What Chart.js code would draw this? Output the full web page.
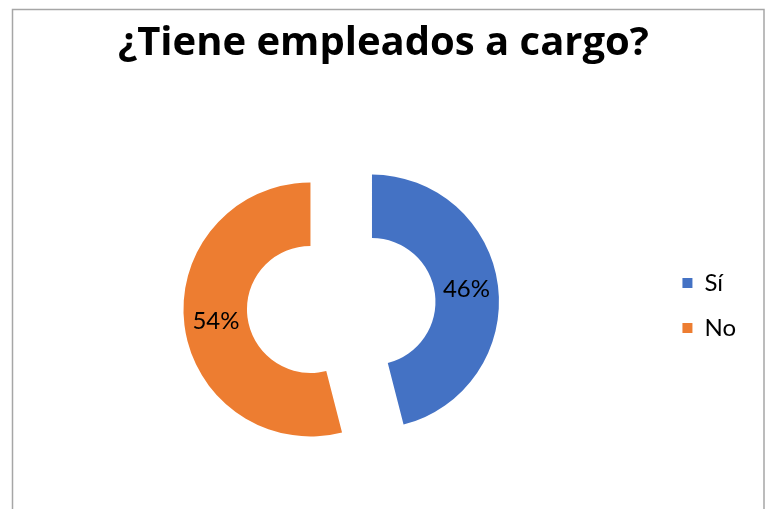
<!DOCTYPE html>
<html>
<head>
<meta charset="utf-8">
<script src="https://cdn.jsdelivr.net/npm/chart.js@4"></script>
<style>
  html, body { margin: 0; padding: 0; background: #fff; }
  #wrap { width: 772px; height: 509px; position: relative; }
</style>
</head>
<body>
<div id="wrap"><canvas id="chart" width="772" height="509"></canvas></div>
<script>
// ─── data ────────────────────────────────────────────────────────────────────
const TITLE = '¿Tiene empleados a cargo?';
const labels = ['Sí', 'No'];
const values = [46, 54];
const colors = ['#4472C4', '#ED7D31'];

const EXPLODE = 31;   // px each slice is pulled out from the centre
const FONT = 'Lato, "Open Sans", sans-serif';

// frame like the spreadsheet chart border (open at the bottom)
const framePlugin = {
  id: 'frame',
  beforeDraw(chart) {
    const c = chart.ctx;
    c.save();
    c.strokeStyle = '#a6a6a6';
    c.lineWidth = 1.5;
    c.beginPath();
    c.moveTo(12.5, 520); c.lineTo(12.5, 9.5); c.lineTo(764, 9.5); c.lineTo(764, 520);
    c.stroke();
    c.restore();
  }
};

// draw each arc shifted out along its middle angle
const explodePlugin = {
  id: 'explode',
  beforeDatasetDraw(chart, args) {
    const c = chart.ctx;
    args.meta.data.forEach(arc => {
      const mid = (arc.startAngle + arc.endAngle) / 2;
      c.save();
      c.translate(Math.cos(mid) * EXPLODE, Math.sin(mid) * EXPLODE);
      arc.draw(c, chart.chartArea);
      c.restore();
    });
    return false;
  }
};

const pctLabels = {
  id: 'pctLabels',
  afterDraw(chart) {
    const c = chart.ctx;
    const meta = chart.getDatasetMeta(0);
    const total = values.reduce((a, b) => a + b, 0);
    c.save();
    c.fillStyle = '#000';
    c.font = '24px ' + FONT;
    c.textAlign = 'center';
    c.textBaseline = 'middle';
    meta.data.forEach((arc, i) => {
      const mid = (arc.startAngle + arc.endAngle) / 2;
      const r = EXPLODE + (arc.innerRadius + arc.outerRadius) / 2;
      const pct = Math.round(values[i] / total * 100) + '%';
      c.fillText(pct, arc.x + Math.cos(mid) * r, arc.y + Math.sin(mid) * r);
    });
    c.restore();
  }
};

new Chart(document.getElementById('chart'), {
  type: 'doughnut',
  data: {
    labels,
    datasets: [{ data: values, backgroundColor: colors, borderWidth: 0, hoverOffset: 0 }]
  },
  options: {
    responsive: false,
    animation: false,
    radius: 127,
    cutout: '50%',
    layout: { padding: { left: 21, right: 26, top: 0, bottom: 3 } },
    plugins: {
      title: {
        display: true, text: TITLE, color: '#000',
        font: { family: '"Open Sans", sans-serif', size: 40, weight: 'bold', lineHeight: 1.2 },
        padding: { top: 20, bottom: 37 }
      },
      legend: {
        position: 'right',
        fullSize: false,
        labels: {
          color: '#000', font: { family: FONT, size: 24 },
          boxWidth: 10, boxHeight: 10, padding: 21
        }
      },
      tooltip: { enabled: false }
    }
  },
  plugins: [framePlugin, explodePlugin, pctLabels]
});
</script>
</body>
</html>
